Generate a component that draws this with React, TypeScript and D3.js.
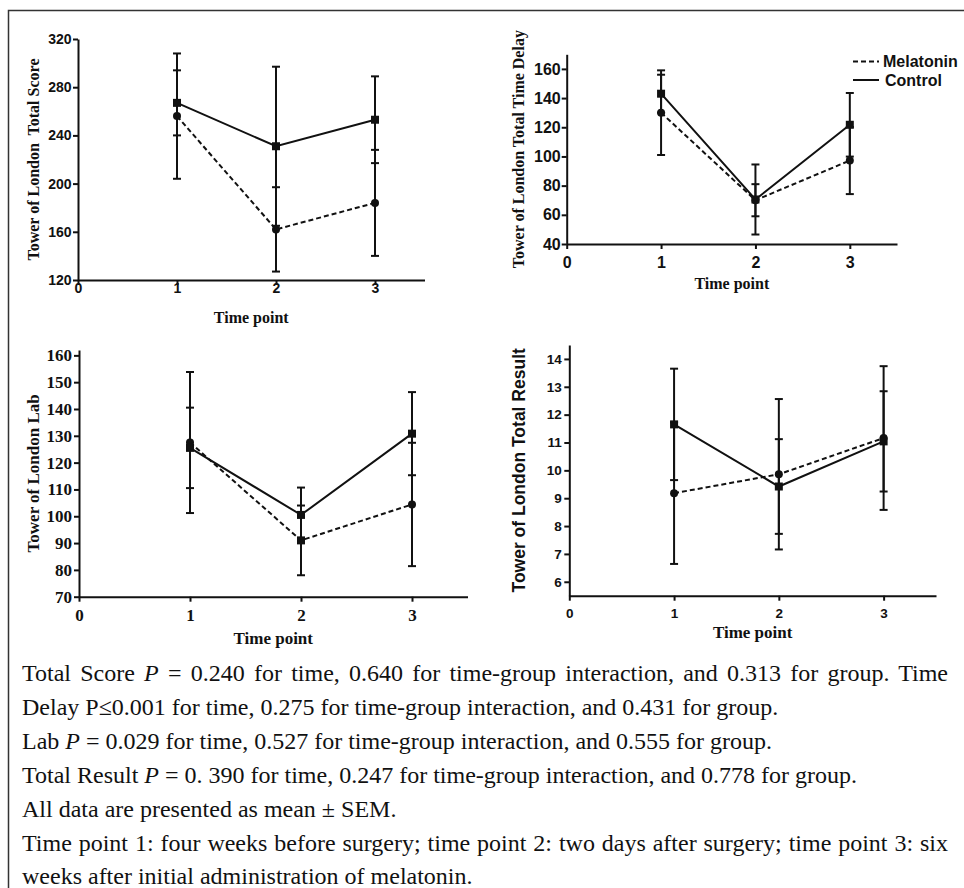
import React, { useEffect, useRef } from "react";
import * as d3 from "d3";

// time points and x ticks shared by all four panels
const timePoints = [1, 2, 3];
const xTicks = [0, 1, 2, 3];

// Tower of London Total Score
const scoreTicks = [120, 160, 200, 240, 280, 320];
const scoreMelatonin = [256, 162, 184];
const scoreMelatoninSem = [52, 35, 44];
const scoreControl = [267, 231, 253];
const scoreControlSem = [27, 66, 36];

// Tower of London Total Time Delay
const delayTicks = [40, 60, 80, 100, 120, 140, 160];
const delayMelatonin = [130, 70, 97.2];
const delayMelatoninSem = [29, 11, 23];
const delayControl = [143, 70.5, 121.7];
const delayControlSem = [13, 24, 21.8];

// Tower of London Lab
const labTicks = [70, 80, 90, 100, 110, 120, 130, 140, 150, 160];
const labMelatonin = [127.5, 91, 104.4];
const labMelatoninSem = [26.3, 13, 23];
const labMelatoninShapes = ["circle", "square", "circle"];
const labControl = [125.5, 100.5, 130.8];
const labControlSem = [15, 10.2, 15.5];

// Tower of London Total Result
const resultTicks = [6, 7, 8, 9, 10, 11, 12, 13, 14];
const resultMelatonin = [9.18, 9.86, 11.16];
const resultMelatoninSem = [2.54, 2.7, 2.58];
const resultControl = [11.65, 9.42, 11.04];
const resultControlSem = [2, 1.7, 1.8];

const legendLabels = ["Melatonin", "Control"];

const SANS = "'Liberation Sans', Arial, sans-serif";
const SERIF = "'Liberation Serif', 'Times New Roman', serif";

const panels = [
  {
    yTitle: "Tower of London  Total Score",
    ticks: scoreTicks, yDomain: [120, 320],
    mel: scoreMelatonin, melSem: scoreMelatoninSem, melShapes: null,
    ctl: scoreControl, ctlSem: scoreControlSem,
    left: 78, right: 424.5, top: 39, bottom: 280,
    tickFont: SANS, tickSize: 14, yPad: 1.5,
    titleFont: SERIF, titleSize: 16, yTitleFont: SERIF, yTitleSize: 16,
    xTickY: 288, xTitleY: 317, yTitleX: 33, legend: false,
  },
  {
    yTitle: "Tower of London Total Time Delay",
    ticks: delayTicks, yDomain: [40, 170],
    mel: delayMelatonin, melSem: delayMelatoninSem, melShapes: null,
    ctl: delayControl, ctlSem: delayControlSem,
    left: 566.7, right: 897, top: 54.3, bottom: 244,
    tickFont: SANS, tickSize: 16, yPad: 1,
    titleFont: SERIF, titleSize: 16, yTitleFont: SERIF, yTitleSize: 16,
    xTickY: 262, xTitleY: 283, yTitleX: 518, legend: true,
  },
  {
    yTitle: "Tower of London Lab",
    ticks: labTicks, yDomain: [70, 162],
    mel: labMelatonin, melSem: labMelatoninSem, melShapes: labMelatoninShapes,
    ctl: labControl, ctlSem: labControlSem,
    left: 79, right: 467.5, top: 350, bottom: 596.7,
    tickFont: SERIF, tickSize: 17, yPad: 2,
    titleFont: SERIF, titleSize: 17, yTitleFont: SERIF, yTitleSize: 17,
    xTickY: 615, xTitleY: 638, yTitleX: 33, legend: false,
  },
  {
    yTitle: "Tower of London Total Result",
    ticks: resultTicks, yDomain: [5.5, 14.5],
    mel: resultMelatonin, melSem: resultMelatoninSem, melShapes: null,
    ctl: resultControl, ctlSem: resultControlSem,
    left: 569.3, right: 936, top: 345, bottom: 595.7,
    tickFont: SANS, tickSize: 13.5, yPad: 2.5,
    titleFont: SERIF, titleSize: 17, yTitleFont: SANS, yTitleSize: 17.5,
    xTickY: 612.7, xTitleY: 631.7, yTitleX: 519.3, legend: false,
  },
];

function Panel({ cfg }) {
  const ref = useRef(null);
  useEffect(() => {
    const g = d3.select(ref.current);
    g.selectAll("*").remove();
    const x = d3.scaleLinear().domain([0, 3.5]).range([cfg.left, cfg.right]);
    const y = d3.scaleLinear().domain(cfg.yDomain).range([cfg.bottom, cfg.top]);

    const xa = g
      .append("g")
      .attr("transform", `translate(0,${cfg.bottom})`)
      .call(d3.axisBottom(x).tickValues(xTicks).tickFormat(d3.format("d")).tickSize(5).tickSizeOuter(0));
    xa.selectAll("text")
      .attr("y", cfg.xTickY - cfg.bottom)
      .attr("dy", "0.36em");

    const ya = g
      .append("g")
      .attr("transform", `translate(${cfg.left},0)`)
      .call(d3.axisLeft(y).tickValues(cfg.ticks).tickSize(5).tickSizeOuter(0).tickPadding(cfg.yPad));

    [xa, ya].forEach(a => {
      a.select(".domain").attr("stroke", "#111").attr("stroke-width", 2);
      a.selectAll(".tick line").attr("stroke", "#111").attr("stroke-width", 2);
      a.selectAll("text")
        .attr("fill", "#111")
        .style("font-family", cfg.tickFont)
        .style("font-size", cfg.tickSize + "px")
        .style("font-weight", "bold");
    });

    g.append("text")
      .attr("x", (cfg.left + cfg.right) / 2)
      .attr("y", cfg.xTitleY)
      .attr("dy", "0.35em")
      .attr("text-anchor", "middle")
      .style("font-family", cfg.titleFont)
      .style("font-size", cfg.titleSize + "px")
      .style("font-weight", "bold")
      .attr("fill", "#111")
      .text("Time point");

    const cy = (cfg.top + cfg.bottom) / 2;
    g.append("text")
      .attr("transform", `translate(${cfg.yTitleX},${cy}) rotate(-90)`)
      .attr("dy", "0.35em")
      .attr("text-anchor", "middle")
      .style("font-family", cfg.yTitleFont)
      .style("font-size", cfg.yTitleSize + "px")
      .style("font-weight", "bold")
      .style("white-space", "pre")
      .attr("fill", "#111")
      .text(cfg.yTitle);

    const series = [
      { vals: cfg.mel, sem: cfg.melSem, dash: "5,3", shapes: cfg.melShapes || timePoints.map(() => "circle") },
      { vals: cfg.ctl, sem: cfg.ctlSem, dash: null, shapes: timePoints.map(() => "square") },
    ];
    const line = d3.line().x((d, i) => x(timePoints[i])).y(d => y(d));

    series.forEach(s => {
      const eb = g.append("g").attr("stroke", "#111").attr("stroke-width", 2);
      s.vals.forEach((v, i) => {
        const cx = x(timePoints[i]);
        eb.append("line").attr("x1", cx).attr("x2", cx).attr("y1", y(v - s.sem[i])).attr("y2", y(v + s.sem[i]));
        [v - s.sem[i], v + s.sem[i]].forEach(e => {
          eb.append("line").attr("x1", cx - 4).attr("x2", cx + 4).attr("y1", y(e)).attr("y2", y(e));
        });
      });
    });

    series.forEach(s => {
      g.append("path")
        .datum(s.vals)
        .attr("d", line)
        .attr("fill", "none")
        .attr("stroke", "#111")
        .attr("stroke-width", 2)
        .attr("stroke-dasharray", s.dash);
      s.vals.forEach((v, i) => {
        const cx = x(timePoints[i]);
        if (s.shapes[i] === "square") {
          g.append("rect").attr("x", cx - 4).attr("y", y(v) - 4).attr("width", 8).attr("height", 8).attr("fill", "#111");
        } else {
          g.append("circle").attr("cx", cx).attr("cy", y(v)).attr("r", 4).attr("fill", "#111");
        }
      });
    });

    if (cfg.legend) {
      const lg = g.append("g");
      legendLabels.forEach((lab, i) => {
        const ly = 61.5 + i * 18.5;
        lg.append("line")
          .attr("x1", 853).attr("x2", 879).attr("y1", ly).attr("y2", ly)
          .attr("stroke", "#111").attr("stroke-width", 2)
          .attr("stroke-dasharray", i === 0 ? "5,3" : null);
        lg.append("text")
          .attr("x", i === 0 ? 883 : 885)
          .attr("y", ly)
          .attr("dy", "0.35em")
          .style("font-family", SANS)
          .style("font-size", "16px")
          .style("font-weight", "bold")
          .attr("fill", "#111")
          .text(lab);
      });
    }
  }, [cfg]);
  return <g ref={ref} />;
}

const captionLines = [
  { parts: ["Total Score ", "P", " = 0.240 for time, 0.640 for time-group interaction, and 0.313 for group. Time"], justify: 926 },
  { parts: ["Delay P\u22640.001 for time, 0.275 for time-group interaction, and 0.431 for group."], justify: null },
  { parts: ["Lab ", "P", " = 0.029 for time, 0.527 for time-group interaction, and 0.555 for group."], justify: null },
  { parts: ["Total Result ", "P", " = 0. 390 for time, 0.247 for time-group interaction, and 0.778 for group."], justify: null },
  { parts: ["All data are presented as mean \u00b1 SEM."], justify: null },
  { parts: ["Time point 1: four weeks before surgery; time point 2: two days after surgery; time point 3: six"], justify: 926 },
  { parts: ["weeks after initial administration of melatonin."], justify: null },
];

function Caption() {
  const ref = useRef(null);
  useEffect(() => {
    // spread justified lines by word spacing, like the typeset caption
    d3.select(ref.current)
      .selectAll("text")
      .each(function (d, i) {
        const target = captionLines[i].justify;
        if (!target) return;
        const el = this as SVGTextElement;
        el.style.wordSpacing = "0px";
        const natural = el.getComputedTextLength();
        const spaces = captionLines[i].parts.join("").split(" ").length - 1;
        el.style.wordSpacing = (target - natural) / spaces + "px";
      });
  }, []);
  return (
    <g ref={ref}>
      {captionLines.map((ln, i) => (
        <text
          key={i}
          x={22}
          y={681 + i * 33.9}
          fontFamily={SERIF}
          fontSize={24}
          fill="#111"
          style={{ whiteSpace: "pre" }}
        >
          {ln.parts.map((t, j) => (
            <tspan key={j} fontStyle={t === "P" ? "italic" : "normal"}>
              {t}
            </tspan>
          ))}
        </text>
      ))}
    </g>
  );
}

export default function App() {
  return (
    <svg width={964} height={888} style={{ position: "absolute", left: 0, top: 0, background: "#fff" }}>
      <rect x={0} y={0} width={964} height={888} fill="#fff" />
      <path d="M8.5,888 V10.5 H964" fill="none" stroke="#333" strokeWidth={1.5} />
      {panels.map((p, i) => (
        <Panel key={i} cfg={p} />
      ))}
      <Caption />
    </svg>
  );
}
